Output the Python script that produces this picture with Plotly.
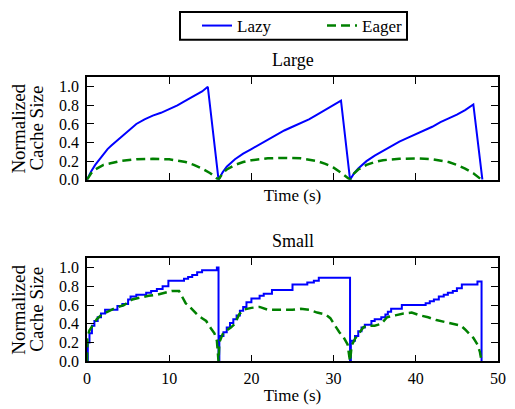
import plotly.graph_objects as go

# ---------------- data ----------------
large_lazy_t = [0, 0.5, 1, 1.5, 2, 2.5, 3, 4, 5, 6, 7, 8, 9, 10, 11, 12, 13, 14, 14.7, 16.0,
                16.5, 17, 18, 19, 20, 21, 22, 23, 24, 25, 26, 27, 28, 29, 30, 30.9, 32.0,
                32.5, 33, 34, 35, 36, 37, 38, 39, 40, 41, 42, 43, 44, 45, 46, 47, 48.1]
large_lazy_v = [0, 0.09, 0.16, 0.22, 0.28, 0.33, 0.37, 0.45, 0.53, 0.60, 0.65, 0.69, 0.72, 0.76, 0.80, 0.85, 0.90, 0.95, 1.0, 0,
                0.08, 0.14, 0.22, 0.28, 0.33, 0.38, 0.43, 0.48, 0.53, 0.57, 0.61, 0.65, 0.70, 0.75, 0.80, 0.85, 0,
                0.07, 0.12, 0.20, 0.26, 0.31, 0.36, 0.41, 0.45, 0.49, 0.53, 0.57, 0.62, 0.66, 0.70, 0.75, 0.81, 0]

large_eager_t = [0, 0.5, 1, 2, 3, 4, 6, 8, 10, 12, 13, 14, 15, 16,
                 16.5, 17, 18, 19, 20, 22, 24, 26, 28, 29, 30, 31, 32,
                 32.5, 33, 34, 35, 36, 38, 40, 42, 44, 45, 46, 47, 48]
large_eager_v = [0, 0.07, 0.11, 0.16, 0.18, 0.20, 0.22, 0.225, 0.22, 0.19, 0.16, 0.12, 0.07, 0,
                 0.07, 0.11, 0.16, 0.19, 0.21, 0.23, 0.235, 0.23, 0.20, 0.17, 0.13, 0.07, 0,
                 0.07, 0.11, 0.16, 0.19, 0.21, 0.225, 0.23, 0.22, 0.19, 0.16, 0.12, 0.07, 0]

small_lazy_t = [0, 0.1, 0.3, 0.6, 0.9, 1.3, 1.7, 2.2, 3.7, 4.3, 5.0, 5.3, 6.0, 7.2, 7.8, 8.5, 9.2, 9.9,
                11.8, 12.3, 12.8, 13.4, 14.0, 15.8, 16.0,
                16.1, 16.6, 17.0, 17.4, 17.8, 18.2, 18.6, 19.0, 19.4, 20.0, 21.0, 21.5, 22.5, 25.0,
                26.8, 27.6, 28.2, 32.0,
                32.1, 32.6, 33.0, 33.4, 33.8, 34.6, 35.0, 35.8, 36.3, 36.6, 37.0, 38.3, 41.2, 41.7,
                42.2, 42.8, 43.4, 43.9, 44.5, 45.0, 45.6, 47.5, 48.0]
small_lazy_v = [0, 0.2, 0.3, 0.38, 0.43, 0.47, 0.51, 0.55, 0.59, 0.61, 0.66, 0.69, 0.71, 0.73, 0.75, 0.77, 0.80, 0.86,
                0.88, 0.90, 0.92, 0.95, 0.97, 1.0, 0,
                0.27, 0.31, 0.36, 0.41, 0.45, 0.49, 0.54, 0.58, 0.63, 0.67, 0.70, 0.72, 0.76, 0.82,
                0.84, 0.86, 0.89, 0,
                0.22, 0.27, 0.32, 0.36, 0.39, 0.43, 0.45, 0.47, 0.50, 0.53, 0.56, 0.60, 0.62, 0.64,
                0.66, 0.69, 0.71, 0.73, 0.75, 0.78, 0.82, 0.85, 0]

small_eager_t = [0, 0.05, 0.3, 0.7, 1.2, 1.8, 2.5, 3.5, 4.5, 5.5, 6.5, 7.5, 8.5, 9.5, 10.3, 11.2, 11.6,
                 12.0, 12.5, 13.0, 13.5, 14.0, 14.5, 15.0, 15.5, 15.8, 16.0,
                 16.1, 16.5, 17.0, 17.5, 18.0, 18.5, 19.0, 20.0, 21.0, 22.0, 23.0, 24.0, 25.0, 26.0,
                 27.0, 28.0, 29.0, 29.6, 30.2, 30.7, 31.2, 31.7, 32.0,
                 32.2, 32.6, 33.2, 33.6, 34.0, 35.0, 35.8, 36.5, 37.5, 38.5, 39.5, 40.5, 41.5,
                 42.5, 43.5, 44.5, 45.5, 46.0, 46.5, 47.0, 47.5, 47.8, 48.0]
small_eager_v = [0, 0.26, 0.33, 0.39, 0.45, 0.50, 0.53, 0.57, 0.60, 0.66, 0.68, 0.70, 0.71, 0.73, 0.75, 0.75, 0.68,
                 0.62, 0.58, 0.53, 0.49, 0.46, 0.43, 0.36, 0.30, 0.22, 0,
                 0.20, 0.29, 0.33, 0.36, 0.40, 0.50, 0.55, 0.57, 0.58, 0.55, 0.55, 0.55, 0.55, 0.56,
                 0.55, 0.52, 0.50, 0.46, 0.38, 0.31, 0.26, 0.18, 0,
                 0.17, 0.24, 0.31, 0.36, 0.38, 0.38, 0.40, 0.47, 0.49, 0.51, 0.52, 0.49, 0.47,
                 0.44, 0.42, 0.40, 0.38, 0.34, 0.29, 0.25, 0.18, 0.10, 0]

x_ticks = [0, 10, 20, 30, 40, 50]
y_ticks = [0.0, 0.2, 0.4, 0.6, 0.8, 1.0]
y_title_lines = ["Normalized", "Cache Size"]

BLUE = "#0000ff"
GREEN = "#008000"
FONT = "Liberation Serif"
DASH = "9px,5px"

fig = go.Figure()
fig.add_trace(go.Scatter(x=large_lazy_t, y=large_lazy_v, mode="lines", name="Lazy",
                         line=dict(color=BLUE, width=2), xaxis="x", yaxis="y"))
fig.add_trace(go.Scatter(x=large_eager_t, y=large_eager_v, mode="lines", name="Eager",
                         line=dict(color=GREEN, width=2.5, dash=DASH), xaxis="x", yaxis="y"))
fig.add_trace(go.Scatter(x=small_lazy_t, y=small_lazy_v, mode="lines", name="Lazy", showlegend=False,
                         line=dict(color=BLUE, width=2, shape="hv"), xaxis="x2", yaxis="y2"))
fig.add_trace(go.Scatter(x=small_eager_t, y=small_eager_v, mode="lines", name="Eager", showlegend=False,
                         line=dict(color=GREEN, width=2.5, dash=DASH), xaxis="x2", yaxis="y2"))

# page body adds an 8px offset: lay out in a 507x401 figure
W, H = 507, 401
L, R = 79, 17
PW = W - L - R
OFF = 8

def py(screen_y):
    return (H - (screen_y - OFF)) / H

def px(screen_x):
    return (screen_x - OFF - L) / PW

def dom(top_px, bot_px):
    return [py(bot_px), py(top_px)]

axis_common = dict(showline=True, linecolor="black", linewidth=1.5, mirror="ticks",
                   ticks="inside", ticklen=7, tickwidth=1, tickcolor="black",
                   showgrid=False, zeroline=False, automargin=False,
                   tickfont=dict(family=FONT, size=16, color="black"))

annotations = [
    dict(text="Large", x=0.5, y=py(57), xref="paper", yref="paper", showarrow=False,
         font=dict(family=FONT, size=18, color="black"), yanchor="middle"),
    dict(text="Small", x=0.5, y=py(240), xref="paper", yref="paper", showarrow=False,
         font=dict(family=FONT, size=18, color="black"), yanchor="middle"),
]
for yc in (126.5, 309):
    for line_text, xc in zip(y_title_lines, (19, 37)):
        annotations.append(dict(text=line_text, x=px(xc), y=py(yc), xref="paper", yref="paper",
                                showarrow=False, textangle=-90, xanchor="center", yanchor="middle",
                                font=dict(family=FONT, size=19, color="black")))

fig.update_layout(
    width=W, height=H,
    margin=dict(l=L, r=R, t=0, b=0),
    paper_bgcolor="white", plot_bgcolor="white",
    font=dict(family=FONT, color="black"),
    xaxis=dict(domain=[0, 1], anchor="y", range=[0, 50], tickvals=x_ticks, showticklabels=False,
               title=dict(text="Time (s)", font=dict(family=FONT, size=17), standoff=9), **axis_common),
    yaxis=dict(domain=dom(75, 178), anchor="x", range=[0, 1.1], tickvals=y_ticks, tickformat=".1f",
               ticklabelstandoff=3, **axis_common),
    xaxis2=dict(domain=[0, 1], anchor="y2", range=[0, 50], tickvals=x_ticks, ticklabelstandoff=2,
                title=dict(text="Time (s)", font=dict(family=FONT, size=17), standoff=3), **axis_common),
    yaxis2=dict(domain=dom(257, 361), anchor="x2", range=[0, 1.1], tickvals=y_ticks, tickformat=".1f",
                ticklabelstandoff=3, **axis_common),
    legend=dict(orientation="h", x=px(197), y=py(23), xanchor="left", yanchor="middle",
                borderwidth=0, bgcolor="rgba(0,0,0,0)",
                font=dict(family=FONT, size=17, color="black"),
                entrywidth=80, entrywidthmode="pixels"),
    showlegend=True,
    shapes=[dict(type="rect", xref="paper", yref="paper",
                 x0=px(180), x1=px(407), y0=py(37), y1=py(9),
                 line=dict(color="black", width=2), fillcolor="rgba(0,0,0,0)", layer="below")],
    annotations=annotations,
)

fig.write_html("out.html")
